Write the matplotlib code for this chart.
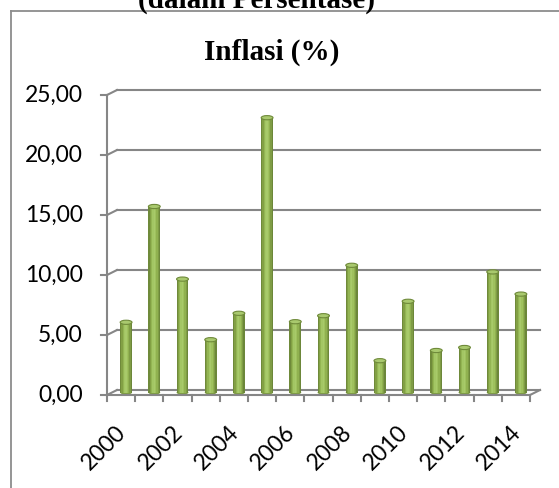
import matplotlib
matplotlib.use("Agg")
import matplotlib.pyplot as plt
import matplotlib.transforms as mtransforms
from matplotlib.patches import Ellipse
from matplotlib.lines import Line2D

# Data
years = [2000, 2001, 2002, 2003, 2004, 2005, 2006, 2007,
         2008, 2009, 2010, 2011, 2012, 2013, 2014]
inflasi = [5.85, 15.5, 9.45, 4.4, 6.6, 22.9, 5.9, 6.4,
           10.6, 2.65, 7.6, 3.5, 3.75, 10.05, 8.2]
y_ticks = [0, 5, 10, 15, 20, 25]

W, H = 559, 488
fig = plt.figure(figsize=(W / 100, H / 100), dpi=100)

# frame around the chart (only left and top are visible)
fig.add_artist(Line2D([11 / W, 11 / W], [0, 1 - 11 / H], color="#8c8c8c", lw=1.3))
fig.add_artist(Line2D([11 / W, 1], [1 - 11 / H, 1 - 11 / H], color="#8c8c8c", lw=1.3))

# heading above the chart, cut off by the top edge as in the original
fig.text(256 / W, 1 - 8 / H, "(dalam Persentase)", ha="center", va="baseline",
         family="Liberation Serif", weight="bold", fontsize=21)
fig.text(272 / W, 1 - 60 / H, "Inflasi (%)", ha="center", va="baseline",
         family="Liberation Serif", weight="bold", fontsize=21)

ax = fig.add_axes([107 / W, (H - 395) / H, 423 / W, 300 / H])
ax.set_xlim(-0.5, len(years) - 0.5)
ax.set_ylim(0, 25)
ax.patch.set_alpha(0)
for s in ax.spines.values():
    s.set_visible(False)

grid_col = "#868686"
n = len(years)
back = mtransforms.offset_copy(ax.transData, fig, x=10, y=5, units="dots")
mid = mtransforms.offset_copy(ax.transData, fig, x=5, y=2.5, units="dots")

# back wall gridlines + diagonal connectors from the front axis
for t in y_ticks:
    ax.plot([-0.5, n - 0.5], [t, t], color=grid_col, lw=1.5, transform=back,
            clip_on=False, zorder=1)
    ax.plot([-0.5, -0.5 + 10 / 28.2], [t, t + 5 / 12], color=grid_col, lw=1.5,
            clip_on=False, zorder=1)
    ax.plot([-0.5 - 6 / 28.2, -0.5], [t, t], color=grid_col, lw=1.5,
            clip_on=False, zorder=1)
# floor: front edge, right edge diagonal
ax.plot([-0.5, n - 0.5], [0, 0], color=grid_col, lw=1.5, clip_on=False, zorder=4)
ax.plot([n - 0.5, n - 0.5 + 10 / 28.2], [0, 5 / 12], color=grid_col, lw=1.5,
        clip_on=False, zorder=4)
ax.plot([-0.5, -0.5], [0, 25], color=grid_col, lw=1.5, clip_on=False, zorder=4)
for i in range(n + 1):
    ax.plot([i - 0.5, i - 0.5], [0, -6 / 12], color=grid_col, lw=1.5,
            clip_on=False, zorder=4)

# cylinder bars built from vertical strips of different shades
shades = ["#6f8a3a", "#82a044", "#93b553", "#a3c664", "#a8ca6a",
          "#9fc15e", "#90b150", "#7f9c45", "#6c873a"]
bw = 0.42
k = len(shades)
for j, c in enumerate(shades):
    off = -bw / 2 + (j + 0.5) * bw / k
    ax.bar([i + off for i in range(n)], inflasi, width=bw / k + 0.005,
           color=c, linewidth=0, transform=mid, zorder=3)
for i, v in enumerate(inflasi):
    ax.add_patch(Ellipse((i, v), bw, 0.35, facecolor="#a9c96e",
                         edgecolor="#6f8a3a", lw=0.8, transform=mid, zorder=3.5))
    ax.add_patch(Ellipse((i, 0), bw, 0.35, facecolor="#7f9c45",
                         edgecolor="none", transform=mid, zorder=2.9))

ax.set_xticks([])
ax.set_yticks([])
lbl_font = dict(family="Lato", fontsize=16.5, color="black")
for t in y_ticks:
    ax.text(-0.5 - 24 / 28.2, t, f"{t:.2f}".replace(".", ","), ha="right",
            va="center", **lbl_font)
for i, yr in enumerate(years):
    if i % 2 == 0:
        ax.text(i - 0.2, -2.2, str(yr), ha="right", va="top", rotation=45,
                rotation_mode="anchor", **lbl_font)

fig.savefig("out.png", dpi=100)
